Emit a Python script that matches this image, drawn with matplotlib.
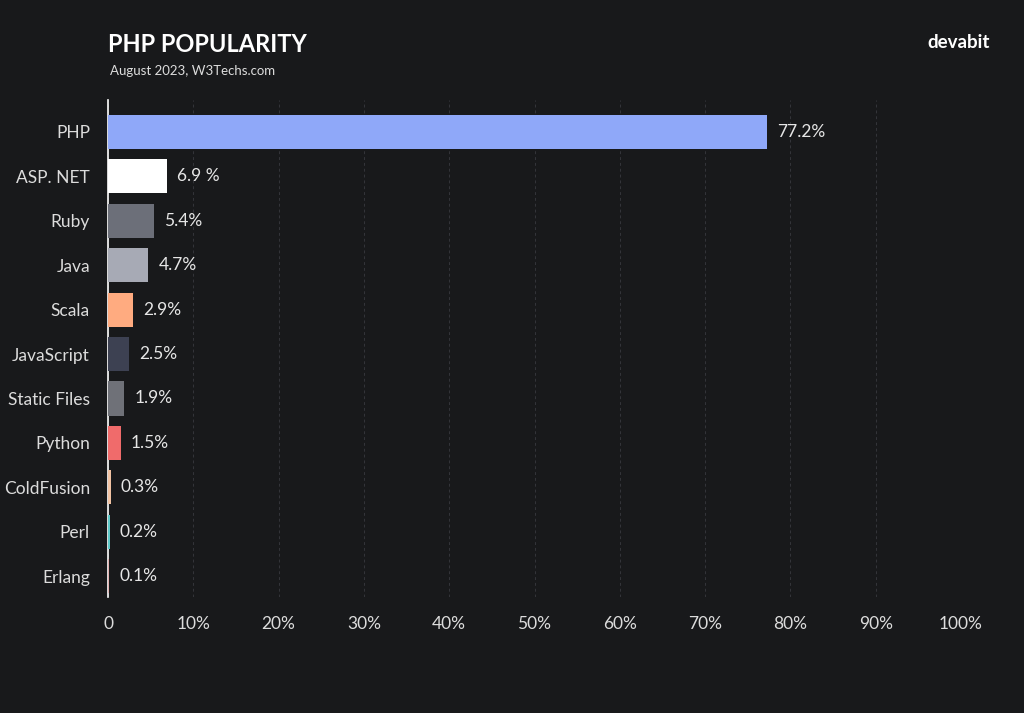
import matplotlib.pyplot as plt
from matplotlib.ticker import FuncFormatter

plt.rcParams['font.family'] = ['Lato', 'DejaVu Sans']

# datos
languages = ["PHP", "ASP. NET", "Ruby", "Java", "Scala", "JavaScript",
             "Static Files", "Python", "ColdFusion", "Perl", "Erlang"]
shares = [77.2, 6.9, 5.4, 4.7, 2.9, 2.5, 1.9, 1.5, 0.3, 0.2, 0.1]
share_labels = ["77.2%", "6.9 %", "5.4%", "4.7%", "2.9%", "2.5%",
                "1.9%", "1.5%", "0.3%", "0.2%", "0.1%"]
colors = ["#8fa8f9", "#ffffff", "#6c6f79", "#a7aab5", "#ffab80", "#3d4152",
          "#6f7178", "#f06b6b", "#f2c3a3", "#5ec9c9", "#e3b3b3"]
ticks = [0, 10, 20, 30, 40, 50, 60, 70, 80, 90, 100]

bg = "#18191b"
fig = plt.figure(figsize=(10.24, 7.13), dpi=100, facecolor=bg)
ax = fig.add_axes([108 / 1024, 1 - 597 / 713, (961 - 108) / 1024, (597 - 100) / 713])
ax.set_facecolor(bg)

y = range(len(languages))
ax.barh(y, shares, color=colors, height=0.77, zorder=6)
for i, (v, lab) in enumerate(zip(shares, share_labels)):
    ax.text(v + 1.2, i, lab, color="#e6e6e6", fontsize=12.5, va="center", ha="left", zorder=7)

ax.set_xlim(0, 100)
ax.set_ylim(10.47, -0.72)
ax.set_yticks(list(y))
ax.set_yticklabels(languages)
ax.set_xticks(ticks)
ax.xaxis.set_major_formatter(FuncFormatter(lambda v, p: "0" if v == 0 else f"{v:.0f}%"))
ax.tick_params(axis="both", length=0, colors="#dcdcdc", labelsize=12.5)
ax.tick_params(axis="y", pad=13)
ax.tick_params(axis="x", pad=14)

ax.grid(axis="x", color="#34353a", linestyle=(0, (3, 3)), linewidth=0.7, zorder=0)
ax.grid(axis="y", visible=False)
for s in ["top", "right", "bottom"]:
    ax.spines[s].set_visible(False)
ax.spines["left"].set_color("#ffffff")
ax.spines["left"].set_linewidth(1.2)
ax.spines["left"].set_zorder(5)

fig.text(108 / 1024, 1 - 45 / 713, "PHP POPULARITY", color="white", fontsize=17,
         fontweight="bold", va="center", ha="left")
fig.text(110 / 1024, 1 - 71 / 713, "August 2023, W3Techs.com", color="#dddddd",
         fontsize=9.5, va="center", ha="left")
fig.text(990 / 1024, 1 - 42 / 713, "devabit", color="white", fontsize=13.5,
         fontweight="bold", va="center", ha="right")

fig.savefig("out.png", dpi=100, facecolor=bg)
